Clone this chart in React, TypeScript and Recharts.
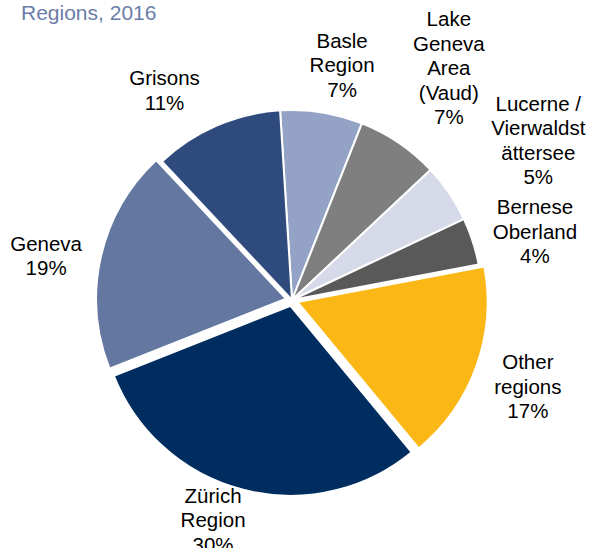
import React from 'react';
import { Cell, Pie, PieChart } from 'recharts';

// Tourism overnight stays by region, 2016
const regions = [
  'Basle\nRegion',
  'Lake\nGeneva\nArea\n(Vaud)',
  'Lucerne /\nVierwaldst\nättersee',
  'Bernese\nOberland',
  'Other\nregions',
  'Zürich\nRegion',
  'Geneva',
  'Grisons',
];
const shares = [7, 7, 5, 4, 17, 30, 19, 11];
const colors = ['#94a3c5', '#7f7f7f', '#d6d9e8', '#595959', '#fbb715', '#002d5f', '#6477a0', '#2f4a7d'];
const exploded = ['Other\nregions', 'Zürich\nRegion', 'Geneva'];

const data = regions.map((name, i) => ({ name, value: shares[i] }));

const CX = 292;
const CY = 300;
const RADIUS = 190;
const START = 93.6;
const EXPLODE = 6;
const LINE = 24.5;
const RAD = Math.PI / 180;

// extra distance beyond the rim, angle nudge (deg) for each label
const labelPlacement: Array<[number, number]> = [
  [51, -3],
  [90.5, 0.2],
  [104, -1.1],
  [62.6, -2.1],
  [61, -0.2],
  [43, -5.4],
  [60, 2.2],
  [56, 7.8],
];

const total = shares.reduce((a, b) => a + b, 0);
const midAngleOf = (idx: number) => {
  const before = shares.slice(0, idx).reduce((a, b) => a + b, 0);
  return START - ((before + shares[idx] / 2) / total) * 360;
};

const renderLabel = (props: any) => {
  const { cx, cy, midAngle, outerRadius, index } = props;
  const [extra, shift] = labelPlacement[index];
  const a = (midAngle + shift) * RAD;
  const r = outerRadius + extra;
  const x = cx + r * Math.cos(a);
  const y = cy - r * Math.sin(a);
  const lines = [...regions[index].split('\n'), `${shares[index]}%`];
  const top = y - ((lines.length - 1) * LINE) / 2;
  return (
    <text
      key={`lbl-${index}`}
      x={x}
      y={top}
      textAnchor="middle"
      dominantBaseline="central"
      fontSize={20.5}
      fill="#000"
      fontFamily="'Liberation Sans', Arial, sans-serif"
    >
      {lines.map((l, i) => (
        <tspan key={i} x={x} y={top + i * LINE}>
          {l}
        </tspan>
      ))}
    </text>
  );
};

export default function App() {
  return (
    <div
      style={{
        position: 'absolute',
        left: 0,
        top: 0,
        width: 590,
        height: 548,
        overflow: 'hidden',
        background: '#fff',
        fontFamily: "'Liberation Sans', Arial, sans-serif",
      }}
    >
      <div
        style={{
          position: 'absolute',
          left: 21,
          top: 2,
          fontSize: 21,
          lineHeight: '21px',
          color: '#6b7da8',
          whiteSpace: 'nowrap',
        }}
      >
        Regions, 2016
      </div>
      <PieChart width={590} height={548} margin={{ top: 0, right: 0, bottom: 0, left: 0 }}>
        <Pie
          data={data}
          dataKey="value"
          nameKey="name"
          cx={CX}
          cy={CY}
          outerRadius={RADIUS}
          startAngle={START}
          endAngle={START - 360}
          stroke="#fff"
          strokeWidth={2}
          label={renderLabel}
          labelLine={false}
          isAnimationActive={false}
        >
          {data.map((d, i) => (
            <Cell
              key={d.name}
              fill={exploded.includes(d.name) ? 'transparent' : colors[i]}
              stroke={exploded.includes(d.name) ? 'none' : '#fff'}
            />
          ))}
        </Pie>
        {exploded.map((name) => {
          const idx = regions.indexOf(name);
          const a = midAngleOf(idx) * RAD;
          return (
            <Pie
              key={name}
              data={data}
              dataKey="value"
              nameKey="name"
              cx={CX + EXPLODE * Math.cos(a)}
              cy={CY - EXPLODE * Math.sin(a)}
              outerRadius={RADIUS}
              startAngle={START}
              endAngle={START - 360}
              strokeWidth={2}
              isAnimationActive={false}
            >
              {data.map((d, i) => (
                <Cell
                  key={d.name}
                  fill={i === idx ? colors[i] : 'transparent'}
                  stroke={i === idx ? '#fff' : 'none'}
                />
              ))}
            </Pie>
          );
        })}
      </PieChart>
    </div>
  );
}
